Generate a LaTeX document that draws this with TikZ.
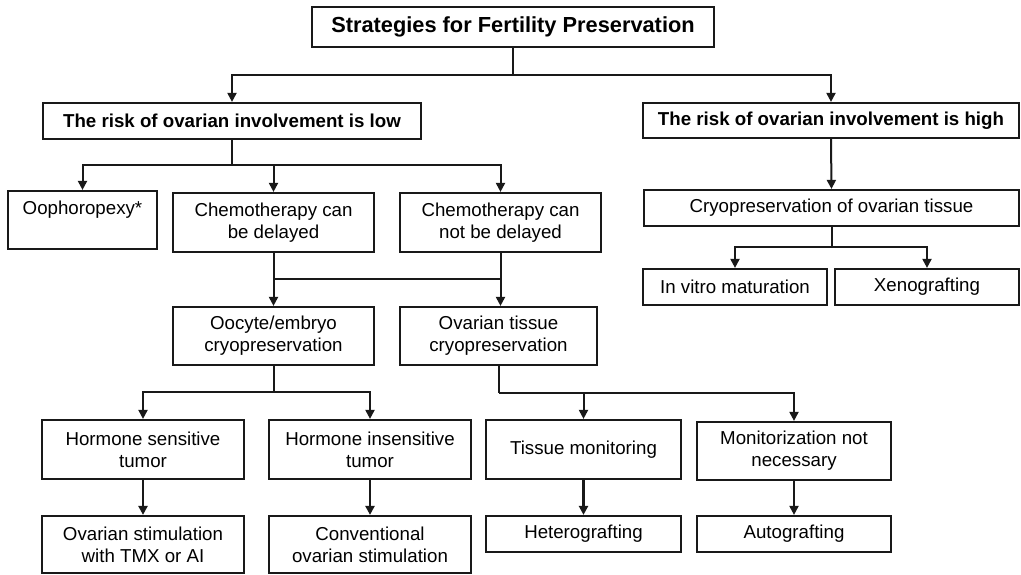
\documentclass[tikz,border=0pt]{standalone}
\usepackage{fontspec}
\setmainfont{Liberation Sans}
\usetikzlibrary{arrows.meta}
\begin{document}
\begin{tikzpicture}[x=1pt,y=-1pt,
  box/.style={draw=black!90, line width=2.2pt, inner sep=0pt, align=center,
    font=\fontsize{18.7}{22}\selectfont},
  bbox/.style={box, font=\fontsize{18.7}{22}\selectfont\bfseries},
  conn/.style={draw=black!90, line width=2pt},
  arr/.style={conn, -{Triangle[length=9pt,width=9pt]}},
  tarr/.style={arr, line width=2.8pt}]
\useasboundingbox (0,0) rectangle (1021,574);
\node[bbox, minimum width=402pt, minimum height=40pt, font=\fontsize{21.8}{24}\selectfont\bfseries] (title) at (513,27) {Strategies for Fertility Preservation};
\node[bbox, minimum width=378pt, minimum height=36pt] (low) at (232,121) {The risk of ovarian involvement is low};
\node[bbox, minimum width=376pt, minimum height=35pt] (high) at (831,120.5) {The risk of ovarian involvement is high};
\node[box, minimum width=149pt, minimum height=58pt] (ooph) at (82.5,220) {Oophoropexy*\\[2pt]\phantom{x}};
\node[box, minimum width=201pt, minimum height=59pt] (chemoD) at (273.5,222.5) {Chemotherapy can\\be delayed};
\node[box, minimum width=201pt, minimum height=59pt] (chemoN) at (500.5,222.5) {Chemotherapy can\\not be delayed};
\node[box, minimum width=201pt, minimum height=58pt] (oocyte) at (273.5,336) {Oocyte/embryo\\cryopreservation};
\node[box, minimum width=197pt, minimum height=58pt] (ovtis) at (498.5,336) {Ovarian tissue\\cryopreservation};
\node[box, minimum width=202pt, minimum height=59pt] (hs) at (143,449.5) {Hormone sensitive\\tumor};
\node[box, minimum width=202pt, minimum height=59pt] (hi) at (370,449.5) {Hormone insensitive\\tumor};
\node[box, minimum width=202pt, minimum height=57pt] (stimT) at (143,544.5) {Ovarian stimulation\\with TMX or AI};
\node[box, minimum width=202pt, minimum height=57pt] (conv) at (370,544.5) {Conventional\\ovarian stimulation};
\node[box, minimum width=195pt, minimum height=59pt] (tm) at (583.5,449.5) {Tissue monitoring};
\node[box, minimum width=194pt, minimum height=58pt] (mon) at (794,451) {Monitorization not\\necessary};
\node[box, minimum width=195pt, minimum height=36pt] (het) at (583.5,534) {Heterografting};
\node[box, minimum width=194pt, minimum height=36pt] (auto) at (794,534) {Autografting};
\node[box, minimum width=375pt, minimum height=36pt] (cryo) at (831.5,208) {Cryopreservation of ovarian tissue};
\node[box, minimum width=184pt, minimum height=36pt] (ivm) at (735,287) {In vitro maturation};
\node[box, minimum width=184pt, minimum height=36pt] (xeno) at (927,287) {Xenografting};
% title branches
\coordinate (j1) at (513,75);
\draw[conn] (title.south) -- (j1);
\draw[arr] (j1) -| (low.north);
\draw[arr] (j1) -| (high.north);
% low branches
\coordinate (j2) at (232,165);
\draw[conn] (low.south) -- (j2);
\draw[arr] (j2) -| (ooph.north);
\draw[arr] (j2) -| (chemoD.north);
\draw[arr] (j2) -| (chemoN.north);
% high
\draw[arr] (high.south) -- (cryo.north);
\coordinate (j3) at (831.5,247);
\draw[conn] (cryo.south) -- (j3);
\draw[arr] (j3) -| (ivm.north);
\draw[arr] (j3) -| (xeno.north);
% chemo merge
\coordinate (j4) at (273.5,279);
\coordinate (j5) at (500.5,279);
\draw[conn] (chemoD.south) -- (j4) -- (j5);
\draw[conn] (chemoN.south) -- (j5);
\draw[arr] (j4) -- (oocyte.north);
\draw[arr] (j5) -- (j5 |- ovtis.north);
% oocyte branches
\coordinate (j6) at (273.5,392);
\draw[conn] (oocyte.south) -- (j6);
\draw[arr] (j6) -| (hs.north);
\draw[arr] (j6) -| (hi.north);
% ovarian tissue branches
\coordinate (j7) at (498.5,393);
\draw[conn] (ovtis.south) -- (j7);
\draw[arr] (j7) -| (tm.north);
\draw[arr] (j7) -| (mon.north);
% final arrows
\draw[tarr] (hs.south) -- (stimT.north);
\draw[tarr] (hi.south) -- (conv.north);
\draw[tarr] (tm.south) -- (het.north);
\draw[arr] (mon.south) -- (auto.north);
\end{tikzpicture}
\end{document}
